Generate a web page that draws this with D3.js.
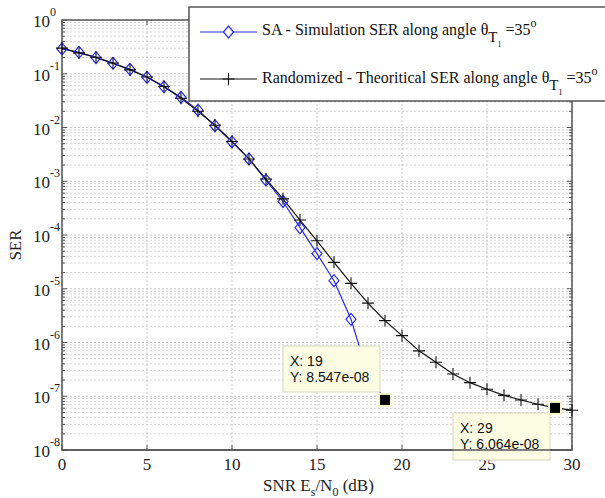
<!DOCTYPE html>
<html>
<head>
<meta charset="utf-8">
<script src="https://cdn.jsdelivr.net/npm/d3@7"></script>
<style>
  body { margin: 0; background: #fff; }
  svg { display: block; }
</style>
</head>
<body>
<div id="vis"></div>
<script>
// SNR axis values (dB)
var snrSim = [0, 1, 2, 3, 4, 5, 6, 7, 8, 9, 10, 11, 12, 13, 14, 15, 16, 17, 18, 19];
var serSim = [0.29, 0.25, 0.199, 0.156, 0.121, 0.086, 0.057, 0.0365, 0.021, 0.0108,
              0.0054, 0.0026, 0.00105, 4.2e-4, 1.37e-4, 4.5e-5, 1.41e-5, 2.7e-6, 2.5e-7, 8.547e-8];

var snrTheory = [0, 1, 2, 3, 4, 5, 6, 7, 8, 9, 10, 11, 12, 13, 14, 15, 16, 17, 18, 19,
                 20, 21, 22, 23, 24, 25, 26, 27, 28, 29, 30];
var serTheory = [0.30, 0.245, 0.203, 0.158, 0.118, 0.087, 0.058, 0.035, 0.020, 0.011,
                 0.0055, 0.0026, 0.0011, 4.7e-4, 1.9e-4, 7.8e-5, 3.1e-5, 1.26e-5, 5.4e-6, 2.55e-6,
                 1.34e-6, 7.0e-7, 4.3e-7, 2.6e-7, 1.79e-7, 1.35e-7, 1.04e-7, 8.5e-8, 7.1e-8, 6.064e-8, 5.5e-8];

var xTicks = [0, 5, 10, 15, 20, 25, 30];
var yExponents = [0, -1, -2, -3, -4, -5, -6, -7, -8];

// data tips shown on the figure
var tips = [
  {x: 19, y: 8.547e-08, label: ["X: 19", "Y: 8.547e-08"], box: [283, 346, 97, 46]},
  {x: 29, y: 6.064e-08, label: ["X: 29", "Y: 6.064e-08"], box: [453, 413, 97, 47]}
];

var width = 605,
    height = 498,
    margin = {top: 20, right: 33, bottom: 48, left: 62},
    plotW = width - margin.left - margin.right,
    plotH = height - margin.top - margin.bottom;

var svg = d3.select('#vis').append('svg')
    .attr('width', width)
    .attr('height', height);

var x = d3.scaleLinear().domain([0, 30]).range([margin.left, margin.left + plotW]);
var y = d3.scaleLog().domain([1e-8, 1]).range([margin.top + plotH, margin.top]);

svg.append('defs').append('clipPath').attr('id', 'clip')
  .append('rect')
    .attr('x', margin.left).attr('y', margin.top)
    .attr('width', plotW).attr('height', plotH);

// grid lines
var minorVals = [];
yExponents.forEach(function(e) {
  if (e === 0) return;
  for (var k = 2; k <= 9; k++) minorVals.push(k * Math.pow(10, e));
});

var grid = svg.append('g').attr('class', 'grid');
grid.selectAll('.hminor').data(minorVals).enter().append('line')
    .attr('x1', margin.left).attr('x2', margin.left + plotW)
    .attr('y1', function(d) { return y(d); }).attr('y2', function(d) { return y(d); })
    .attr('stroke', '#d4d4d4').attr('stroke-width', 1).attr('stroke-dasharray', '2,2');
grid.selectAll('.hmajor').data(yExponents).enter().append('line')
    .attr('x1', margin.left).attr('x2', margin.left + plotW)
    .attr('y1', function(d) { return y(Math.pow(10, d)); }).attr('y2', function(d) { return y(Math.pow(10, d)); })
    .attr('stroke', '#c8c8c8').attr('stroke-width', 1).attr('stroke-dasharray', '2,2');
grid.selectAll('.vmajor').data(xTicks).enter().append('line')
    .attr('x1', function(d) { return x(d); }).attr('x2', function(d) { return x(d); })
    .attr('y1', margin.top).attr('y2', margin.top + plotH)
    .attr('stroke', '#c8c8c8').attr('stroke-width', 1).attr('stroke-dasharray', '2,2');

// axes box and ticks
var axisCol = '#555';
var ax = svg.append('g').attr('class', 'axes');
ax.append('rect')
    .attr('x', margin.left).attr('y', margin.top)
    .attr('width', plotW).attr('height', plotH)
    .attr('fill', 'none').attr('stroke', axisCol).attr('stroke-width', 1.5);

xTicks.forEach(function(t) {
  ax.append('line').attr('x1', x(t)).attr('x2', x(t))
    .attr('y1', margin.top + plotH).attr('y2', margin.top + plotH - 5)
    .attr('stroke', axisCol);
  ax.append('line').attr('x1', x(t)).attr('x2', x(t))
    .attr('y1', margin.top).attr('y2', margin.top + 5)
    .attr('stroke', axisCol);
});
yExponents.forEach(function(e) {
  var yy = y(Math.pow(10, e));
  ax.append('line').attr('x1', margin.left).attr('x2', margin.left + 5)
    .attr('y1', yy).attr('y2', yy).attr('stroke', axisCol);
  ax.append('line').attr('x1', margin.left + plotW).attr('x2', margin.left + plotW - 5)
    .attr('y1', yy).attr('y2', yy).attr('stroke', axisCol);
});
minorVals.forEach(function(v) {
  var yy = y(v);
  ax.append('line').attr('x1', margin.left).attr('x2', margin.left + 3)
    .attr('y1', yy).attr('y2', yy).attr('stroke', axisCol);
  ax.append('line').attr('x1', margin.left + plotW).attr('x2', margin.left + plotW - 3)
    .attr('y1', yy).attr('y2', yy).attr('stroke', axisCol);
});

// tick labels
var serif = "'Liberation Serif', 'Times New Roman', serif";
svg.selectAll('.xlab').data(xTicks).enter().append('text')
    .attr('x', function(d) { return x(d); })
    .attr('y', margin.top + plotH + 20)
    .attr('text-anchor', 'middle')
    .attr('font-family', serif).attr('font-size', 17).attr('fill', '#222')
    .text(function(d) { return d; });

var ylab = svg.selectAll('.ylab').data(yExponents).enter().append('text')
    .attr('x', 33)
    .attr('y', function(d) { return y(Math.pow(10, d)) + 7; })
    .attr('font-family', serif).attr('font-size', 17).attr('fill', '#222');
ylab.append('tspan').text('10');
ylab.append('tspan').attr('dy', -11).attr('font-size', 12)
    .text(function(d) { return d; });

// axis titles
svg.append('text')
    .attr('transform', 'translate(21,245) rotate(-90)')
    .attr('text-anchor', 'middle')
    .attr('font-family', serif).attr('font-size', 17).attr('fill', '#222')
    .text('SER');

var xt = svg.append('text')
    .attr('x', 263).attr('y', 491)
    .attr('font-family', serif).attr('font-size', 17).attr('fill', '#222');
xt.append('tspan').text('SNR E');
xt.append('tspan').attr('dy', 5).attr('font-size', 12).text('s');
xt.append('tspan').attr('dy', -5).text('/N');
xt.append('tspan').attr('dy', 5).attr('font-size', 12).text('0');
xt.append('tspan').attr('dy', -5).text(' (dB)');

// curves
var line = d3.line()
    .x(function(d) { return x(d[0]); })
    .y(function(d) { return y(d[1]); });

var simData = d3.zip(snrSim, serSim);
var theoryData = d3.zip(snrTheory, serTheory);
var blue = '#2a2ae8';

var plot = svg.append('g').attr('clip-path', 'url(#clip)');
plot.append('path').datum(simData)
    .attr('d', line).attr('fill', 'none')
    .attr('stroke', blue).attr('stroke-width', 1.2);

var diamond = 'M0,-6 L5,0 L0,6 L-5,0 Z';
svg.append('g').selectAll('path').data(simData.slice(0, 18)).enter().append('path')
    .attr('transform', function(d) { return 'translate(' + x(d[0]) + ',' + y(d[1]) + ')'; })
    .attr('d', diamond)
    .attr('fill', 'none').attr('stroke', blue).attr('stroke-width', 1.2);

plot.append('path').datum(theoryData)
    .attr('d', line).attr('fill', 'none')
    .attr('stroke', '#111').attr('stroke-width', 1.2);

var plus = 'M-6,0 L6,0 M0,-6 L0,6';
svg.append('g').selectAll('path').data(theoryData).enter().append('path')
    .attr('transform', function(d) { return 'translate(' + x(d[0]) + ',' + y(d[1]) + ')'; })
    .attr('d', plus)
    .attr('fill', 'none').attr('stroke', '#111').attr('stroke-width', 1.1);

// legend
var leg = svg.append('g');
leg.append('rect')
    .attr('x', 189).attr('y', 7).attr('width', 430).attr('height', 94)
    .attr('fill', '#fff').attr('stroke', '#555').attr('stroke-width', 1.5);

leg.append('line').attr('x1', 200).attr('x2', 257).attr('y1', 32).attr('y2', 32)
    .attr('stroke', blue).attr('stroke-width', 1.2);
leg.append('path').attr('transform', 'translate(228.5,32)').attr('d', diamond)
    .attr('fill', '#fff').attr('stroke', blue).attr('stroke-width', 1.2);
leg.append('line').attr('x1', 200).attr('x2', 257).attr('y1', 79).attr('y2', 79)
    .attr('stroke', '#111').attr('stroke-width', 1.2);
leg.append('path').attr('transform', 'translate(228.5,79)').attr('d', plus)
    .attr('fill', 'none').attr('stroke', '#111').attr('stroke-width', 1.1);

function legendText(yBase, prefix) {
  var t = leg.append('text')
      .attr('x', 262).attr('y', yBase)
      .attr('font-family', serif).attr('font-size', 16).attr('fill', '#111');
  t.append('tspan').text(prefix + ' along angle \u03b8');
  t.append('tspan').attr('dy', 7).attr('font-size', 15).text('T');
  t.append('tspan').attr('dy', 5).attr('font-size', 8).text('1');
  t.append('tspan').attr('dy', -12).text(' =35');
  t.append('tspan').attr('dy', -8).attr('font-size', 12).text('o');
}
legendText(35, 'SA - Simulation SER');
legendText(83, 'Randomized - Theoritical SER');

// data tips
var sans = "'Liberation Sans', Arial, sans-serif";
tips.forEach(function(tp) {
  svg.append('rect')
      .attr('x', tp.box[0]).attr('y', tp.box[1])
      .attr('width', tp.box[2]).attr('height', tp.box[3])
      .attr('fill', '#fdfde4').attr('stroke', '#d6d6c4');
  svg.append('rect')
      .attr('x', x(tp.x) - 6).attr('y', y(tp.y) - 6)
      .attr('width', 12).attr('height', 12)
      .attr('fill', '#000').attr('stroke', '#f6f6cc').attr('stroke-width', 2);
  svg.append('text')
      .attr('x', tp.box[0] + 7).attr('y', tp.box[1] + 20)
      .attr('font-family', sans).attr('font-size', 14).attr('fill', '#111')
      .text(tp.label[0]);
  svg.append('text')
      .attr('x', tp.box[0] + 7).attr('y', tp.box[1] + 36)
      .attr('font-family', sans).attr('font-size', 14).attr('fill', '#111')
      .text(tp.label[1]);
});

// bottom axis line stays visible over the data tip
svg.append('line')
    .attr('x1', margin.left).attr('x2', margin.left + plotW)
    .attr('y1', margin.top + plotH).attr('y2', margin.top + plotH)
    .attr('stroke', axisCol).attr('stroke-width', 1.5);
</script>
</body>
</html>
